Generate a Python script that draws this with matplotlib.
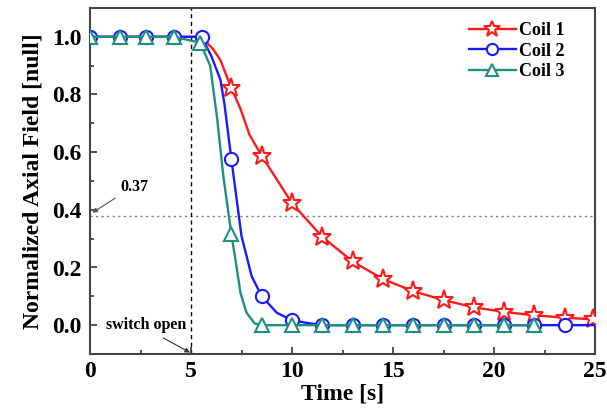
import matplotlib
matplotlib.use("Agg")
import matplotlib.pyplot as plt
from matplotlib.ticker import MultipleLocator

# ---- data ----
t_coil1 = [0, 1.5, 2.75, 4.15, 5.5, 6.1, 6.45, 7.0, 7.45, 7.9, 8.5, 10.0, 11.5, 13.0,
           14.5, 16.0, 17.5, 19.0, 20.5, 22.0, 23.5, 24.9]
v_coil1 = [1.0, 1.0, 1.0, 1.0, 1.0, 0.957, 0.92, 0.822, 0.75, 0.66, 0.587, 0.423, 0.306,
           0.221, 0.16, 0.118, 0.087, 0.062, 0.046, 0.034, 0.026, 0.02]
mk_coil1 = [7, 10, 11, 12, 13, 14, 15, 16, 17, 18, 19, 20, 21]

t_coil2 = [0, 1.5, 2.75, 4.15, 5.53, 6.0, 6.45, 6.65, 7.0, 7.5, 7.75, 8.0, 8.5, 9.25,
           10.0, 10.9, 11.5, 13.0, 14.5, 16.0, 17.5, 19.0, 20.5, 22.0, 23.5, 25.0]
v_coil2 = [1.0, 1.0, 1.0, 1.0, 1.0, 0.934, 0.853, 0.77, 0.575, 0.309, 0.24, 0.17, 0.10,
           0.043, 0.017, 0.006, 0.0, 0.0, 0.0, 0.0, 0.0, 0.0, 0.0, 0.0, 0.0, 0.0]
mk_coil2 = [0, 1, 2, 3, 4, 8, 12, 14, 16, 17, 18, 19, 20, 21, 22, 23, 24]

t_coil3 = [0, 1.5, 2.75, 4.15, 5.45, 5.95, 6.3, 6.6, 7.0, 7.2, 7.45, 7.75, 8.15, 8.5,
           10.0, 11.5, 13.0, 14.5, 16.0, 17.5, 19.0, 20.5, 22.0]
v_coil3 = [1.0, 1.0, 1.0, 1.0, 0.98, 0.90, 0.714, 0.517, 0.315, 0.228, 0.112, 0.043,
           0.006, 0.0, 0.0, 0.0, 0.0, 0.0, 0.0, 0.0, 0.0, 0.0, 0.0]
mk_coil3 = [0, 1, 2, 3, 4, 8, 13, 14, 15, 16, 17, 18, 19, 20, 21, 22]

labels = ["Coil 1", "Coil 2", "Coil 3"]
colors = ["#ff1a1a", "#1a1aff", "#1f8f80"]
threshold = 0.38
switch_time = 5

plt.rcParams["font.family"] = ["Liberation Serif", "DejaVu Serif"]
plt.rcParams["font.weight"] = "bold"

fig = plt.figure(figsize=(6.07, 4.12), dpi=100)
ax = fig.add_axes([90 / 607, 1 - 354 / 412, 505 / 607, 346 / 412])

ax.plot(t_coil1, v_coil1, color=colors[0], lw=1.7, marker="*", ms=14, mfc="white",
        mec=colors[0], mew=1.5, markevery=mk_coil1, label=labels[0], zorder=3)
ax.plot(t_coil2, v_coil2, color=colors[1], lw=1.7, marker="o", ms=9.5, mfc="white",
        mec=colors[1], mew=1.5, markevery=mk_coil2, label=labels[1], zorder=4)
ax.plot(t_coil3, v_coil3, color=colors[2], lw=1.7, marker="^", ms=10.5, mfc="white",
        mec=colors[2], mew=1.5, markevery=mk_coil3, label=labels[2], zorder=5)

ax.axhline(threshold, color="#777777", lw=1.0, ls=(0, (1.5, 2.5)), zorder=1)
ax.axvline(switch_time, color="black", lw=1.0, ls=(0, (3, 2.5)), zorder=1)

ax.set_xlim(0, 25)
ax.set_ylim(-0.1, 1.1)
ax.xaxis.set_major_locator(MultipleLocator(5))
ax.xaxis.set_minor_locator(MultipleLocator(2.5))
ax.yaxis.set_major_locator(MultipleLocator(0.2))
ax.yaxis.set_minor_locator(MultipleLocator(0.1))
ax.set_yticks([0.0, 0.2, 0.4, 0.6, 0.8, 1.0])
ax.set_yticklabels(["0.0", "0.2", "0.4", "0.6", "0.8", "1.0"])
ax.tick_params(which="both", direction="in", color="#333333", width=1.2)
ax.tick_params(which="major", length=5, labelsize=17)
ax.tick_params(which="minor", length=3)
ax.tick_params(axis="x", pad=5)
ax.tick_params(axis="y", pad=6)
for lab in ax.get_xticklabels() + ax.get_yticklabels():
    lab.set_fontweight("bold")
for s in ax.spines.values():
    s.set_color("#444444")
    s.set_linewidth(1.5)

ax.set_xlabel("Time [s]", fontsize=17, fontweight="bold", labelpad=1)
ax.set_ylabel("Normalized Axial Field [null]", fontsize=17, fontweight="bold", labelpad=6)

ax.annotate("0.37", xy=(0.12, 0.39), xytext=(2.2, 0.48), fontsize=11.5, fontweight="bold",
            ha="center", va="center",
            arrowprops=dict(arrowstyle="-|>", color="#555555", lw=0.8, mutation_scale=7,
                            relpos=(0.0, 0.0), shrinkA=2, shrinkB=0))
ax.annotate("switch open", xy=(4.95, -0.095), xytext=(2.8, 0.0), fontsize=11.5,
            fontweight="bold", ha="center", va="center",
            arrowprops=dict(arrowstyle="-|>", color="#333333", lw=0.8, mutation_scale=7,
                            relpos=(0.6, 0.0), shrinkA=3, shrinkB=0))

leg = ax.legend(loc="upper left", bbox_to_anchor=(469 / 607, 1 - 22 / 412),
                bbox_transform=fig.transFigure, frameon=False, markerscale=0.85,
                handlelength=2.6, handletextpad=0.15, labelspacing=0.2, borderpad=0,
                borderaxespad=0, prop={"weight": "bold", "size": 13})

fig.savefig("out.png", dpi=100)
